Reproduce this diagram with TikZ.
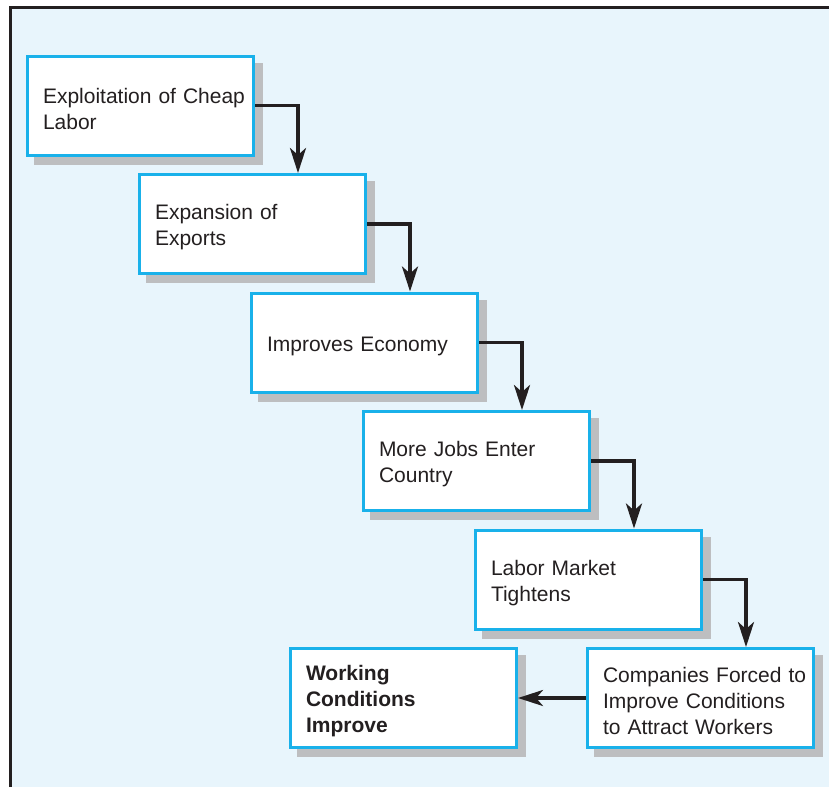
\documentclass[tikz,border=0pt]{standalone}
\usepackage{fontspec}
\setmainfont{Liberation Sans}
\usepackage{tikz}
\usetikzlibrary{arrows.meta, positioning, shadows}
\definecolor{framebg}{HTML}{E8F5FC}
\definecolor{boxcyan}{HTML}{19B1EA}
\definecolor{shadowgray}{HTML}{BDBEC0}
\definecolor{inkdark}{HTML}{231F20}

\begin{document}
\begin{tikzpicture}[
    x=1pt, y=-1pt,
    stage/.style={draw=boxcyan, fill=white, line width=3pt, rectangle,
                  minimum width=226pt, minimum height=99pt,
                  text width=195pt, inner xsep=15.5pt, align=left,
                  font=\fontsize{21}{26}\selectfont, text=inkdark,
                  execute at begin node={\rule{0pt}{21.5pt}},
                  drop shadow={shadow xshift=8pt, shadow yshift=-8pt,
                               fill=shadowgray, draw=shadowgray, opacity=1}},
    result/.style={stage, font=\fontsize{21}{26}\selectfont\bfseries},
    flow/.style={-{Stealth[length=25pt, width=16pt, inset=7pt]}, inkdark,
                 line width=3.5pt}
]
    \useasboundingbox (0,0) rectangle (829,787);
    \fill[framebg] (10.5,7.5) rectangle (829,787);
    \draw[inkdark, line width=3pt] (10.5,787) -- (10.5,7.5) -- (829,7.5);

    \node[stage] (expl) at (140.5,105.5) {\mbox{Exploitation of Cheap}\\Labor};
    \node[stage, below right=16.5pt and -117pt of expl] (expo) {Expansion of\\Exports};
    \node[stage, below right=16.5pt and -117pt of expo] (econ) {Improves Economy};
    \node[stage, below right=16.5pt and -117pt of econ] (jobs) {More Jobs Enter\\Country};
    \node[stage, below right=16.5pt and -117pt of jobs] (market) {Labor Market\\Tightens};
    \node[stage, below right=16.5pt and -117pt of market] (forced) {\mbox{Companies Forced to}\\Improve Conditions\\to Attract Workers};
    \node[result, left=68pt of forced] (working) {Working\\Conditions\\Improve};

    \draw[flow] (expl.east) -| ([xshift=45.5pt]expo.north);
    \draw[flow] (expo.east) -| ([xshift=45.5pt]econ.north);
    \draw[flow] (econ.east) -| ([xshift=45.5pt]jobs.north);
    \draw[flow] (jobs.east) -| ([xshift=45.5pt]market.north);
    \draw[flow] (market.east) -| ([xshift=45.5pt]forced.north);
    \draw[flow] (forced.west) -- (working.east);
\end{tikzpicture}
\end{document}
